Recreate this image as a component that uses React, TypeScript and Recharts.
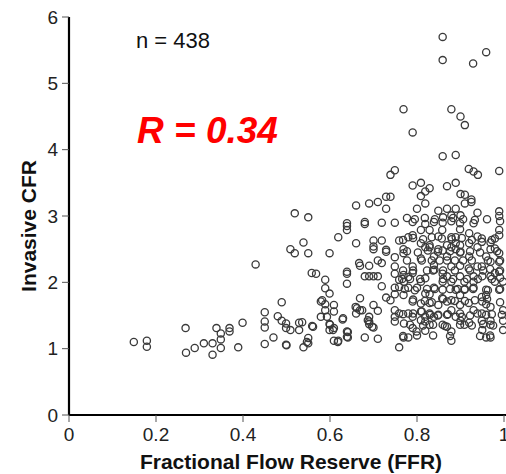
import { ScatterChart, Scatter, XAxis, YAxis } from 'recharts'

// [FFR, CFR] pairs
const highCfrPoints: number[][] = [
  [0.859, 5.7], [0.859, 5.35], [0.959, 5.47], [0.929, 5.3], [0.769, 4.61], [0.879, 4.61],
  [0.9, 4.5], [0.91, 4.37], [0.79, 4.26], [0.859, 3.9], [0.889, 3.92], [0.749, 3.69],
  [0.739, 3.62], [0.919, 3.71], [0.93, 3.67], [0.94, 3.62], [0.989, 3.68],
]

const lowFfrPoints: number[][] = [
  [0.149, 1.1], [0.179, 1.12], [0.179, 1.03], [0.268, 1.31], [0.269, 0.94], [0.289, 1.01],
  [0.31, 1.08], [0.33, 1.08], [0.33, 0.91], [0.339, 1.31], [0.349, 1.23], [0.349, 1.14],
  [0.349, 1.01], [0.369, 1.31], [0.369, 1.26], [0.389, 1.02], [0.399, 1.39], [0.429, 2.27],
  [0.45, 1.55], [0.45, 1.41], [0.45, 1.32], [0.45, 1.07], [0.47, 1.17], [0.48, 1.49],
  [0.489, 1.7], [0.489, 1.42], [0.499, 1.38], [0.499, 1.31], [0.499, 1.06], [0.5, 1.05],
]

const midFfrPoints: number[][] = [
  [0.509, 2.5], [0.519, 2.44], [0.519, 3.04], [0.509, 1.28], [0.529, 1.39], [0.529, 1.28],
  [0.539, 2.6], [0.539, 1.02], [0.55, 2.98], [0.55, 2.44], [0.55, 1.16], [0.55, 1.08],
  [0.559, 1.34], [0.558, 2.14], [0.568, 2.13], [0.579, 1.71], [0.579, 1.48], [0.589, 2.04],
  [0.589, 1.91], [0.589, 1.67], [0.589, 1.58], [0.599, 2.44], [0.599, 1.83], [0.599, 1.37],
  [0.599, 1.28], [0.609, 1.66], [0.609, 1.56], [0.609, 1.31], [0.609, 1.12], [0.619, 2.68],
  [0.619, 1.12], [0.629, 1.44], [0.639, 2.89], [0.639, 2.85], [0.639, 2.79], [0.639, 2.16],
  [0.639, 2.13], [0.639, 1.98], [0.639, 1.26], [0.639, 1.18], [0.66, 3.16], [0.66, 2.59],
  [0.659, 1.63], [0.66, 1.53], [0.669, 2.25], [0.667, 2.29], [0.669, 1.76], [0.669, 1.58],
  [0.68, 2.91], [0.68, 2.88], [0.68, 2.09], [0.68, 1.17], [0.69, 3.19], [0.69, 2.25],
  [0.69, 2.09], [0.69, 1.48], [0.69, 1.41], [0.69, 1.37], [0.7, 2.63], [0.7, 2.54],
  [0.7, 2.5], [0.7, 2.09], [0.7, 1.66], [0.7, 1.32], [0.71, 3.21], [0.71, 2.33],
  [0.71, 2.09], [0.71, 1.57], [0.71, 1.15], [0.719, 2.9], [0.719, 2.63], [0.719, 2.29],
  [0.719, 1.94], [0.729, 3.29], [0.729, 3.11], [0.729, 2.49], [0.729, 2.46], [0.729, 1.77],
  [0.739, 3.29], [0.739, 1.73], [0.749, 2.9], [0.749, 2.38], [0.749, 2.24], [0.749, 2.13],
  [0.749, 1.92], [0.749, 1.82], [0.749, 1.58], [0.749, 1.48], [0.749, 1.41],
  [0.662, 1.61], [0.674, 1.58], [0.687, 1.43], [0.697, 1.33], [0.63, 1.46], [0.6, 1.36],
  [0.607, 1.28], [0.641, 1.25], [0.641, 1.17], [0.618, 1.1], [0.547, 1.1], [0.561, 1.33],
  [0.536, 1.4], [0.582, 1.73], [0.593, 1.48],
]

const clusterPoints: number[][] = [
  [0.759, 2.63], [0.759, 2.04], [0.759, 1.93], [0.759, 1.53], [0.759, 1.02], [0.769, 2.5],
  [0.769, 2.44], [0.769, 2.11], [0.769, 1.81], [0.769, 1.17], [0.77, 2.01], [0.77, 1.38],
  [0.78, 2.68], [0.78, 2.08], [0.78, 1.92], [0.78, 1.53], [0.78, 1.17], [0.79, 3.46],
  [0.79, 2.91], [0.79, 2.71], [0.79, 2.24], [0.79, 2.14], [0.79, 1.71], [0.79, 1.48],
  [0.79, 1.31], [0.799, 1.26], [0.8, 3.11], [0.8, 1.92], [0.809, 3.5], [0.809, 3.3],
  [0.809, 2.79], [0.809, 2.59], [0.809, 2.36], [0.809, 2.01], [0.809, 1.68], [0.809, 1.56],
  [0.809, 1.43], [0.819, 3.37], [0.819, 3.19], [0.819, 2.88], [0.819, 2.53], [0.819, 2.06],
  [0.819, 1.83], [0.819, 1.48], [0.819, 1.41], [0.819, 1.27], [0.829, 3.42], [0.829, 2.79],
  [0.829, 2.56], [0.829, 2.53], [0.829, 1.82], [0.829, 1.69], [0.829, 1.53], [0.829, 1.36],
  [0.839, 2.91], [0.839, 2.39], [0.839, 2.26], [0.839, 1.92], [0.839, 1.48], [0.84, 2.19],
  [0.849, 3.08], [0.849, 2.69], [0.849, 2.5], [0.849, 1.66], [0.849, 1.51], [0.859, 2.9],
  [0.858, 2.79], [0.859, 2.48], [0.859, 2.13], [0.859, 2.01], [0.859, 1.89], [0.858, 1.76],
  [0.859, 1.36], [0.869, 3.45], [0.869, 3.11], [0.869, 2.56], [0.869, 2.39], [0.869, 2.09],
  [0.869, 1.71], [0.869, 1.51], [0.869, 1.33], [0.879, 3.01], [0.879, 2.92], [0.879, 2.68],
  [0.879, 2.53], [0.879, 2.24], [0.879, 2.01], [0.879, 1.73], [0.879, 1.58], [0.879, 1.26],
  [0.879, 1.12], [0.889, 3.5], [0.889, 3.11], [0.889, 2.68], [0.889, 2.59], [0.889, 2.5],
  [0.889, 1.89], [0.889, 1.48], [0.899, 2.89], [0.899, 2.8], [0.899, 2.56], [0.899, 2.25],
  [0.899, 2.09], [0.899, 1.81], [0.899, 1.66], [0.899, 1.53], [0.9, 3.33], [0.9, 3.01],
  [0.9, 2.46], [0.9, 1.42], [0.909, 2.01], [0.909, 1.89], [0.909, 1.36], [0.91, 3.32],
  [0.91, 3.19], [0.919, 2.21], [0.919, 1.69], [0.92, 2.74], [0.92, 2.59], [0.92, 2.39],
  [0.92, 1.39], [0.925, 3.25], [0.925, 3.21], [0.93, 2.89], [0.93, 2.09], [0.93, 2.01],
  [0.93, 1.92], [0.93, 1.58], [0.939, 3.05], [0.939, 2.69], [0.939, 2.53], [0.939, 2.24],
  [0.939, 1.53], [0.949, 2.61], [0.949, 2.24], [0.949, 1.78], [0.949, 1.42], [0.95, 2.09],
  [0.95, 1.71], [0.95, 1.28], [0.959, 2.39], [0.959, 1.89], [0.959, 1.81], [0.959, 1.67],
  [0.959, 1.51], [0.959, 1.17], [0.969, 2.6], [0.969, 2.5], [0.969, 2.31], [0.969, 2.09],
  [0.969, 1.63], [0.969, 1.42], [0.969, 1.36], [0.969, 1.17], [0.979, 2.66], [0.979, 2.51],
  [0.979, 2.14], [0.979, 2.01], [0.989, 3.07], [0.989, 3.0], [0.989, 2.79], [0.989, 2.71],
  [0.989, 2.44], [0.989, 2.31], [0.989, 2.16], [0.989, 1.89], [0.998, 2.01], [0.998, 1.58],
  [0.998, 1.42], [0.998, 1.28],
]

// extra points from the crowded core of the cloud
const clusterFillPoints: number[][] = [
  [0.777, 2.33], [0.811, 2.33], [0.834, 2.33], [0.852, 2.33], [0.869, 2.33], [0.887, 2.33],
  [0.906, 2.33], [0.926, 2.33], [0.963, 2.33], [0.991, 2.33],
  [0.768, 2.18], [0.791, 2.18], [0.823, 2.18], [0.837, 2.18], [0.86, 2.18], [0.887, 2.18],
  [0.922, 2.18], [0.952, 2.18], [0.968, 2.2], [0.991, 2.18],
  [0.766, 2.05], [0.784, 2.05], [0.807, 2.05], [0.86, 2.05], [0.883, 2.05], [0.915, 2.05],
  [0.94, 2.05], [0.972, 2.05], [0.991, 2.07],
  [0.772, 1.9], [0.795, 1.88], [0.823, 1.9], [0.841, 1.9], [0.876, 1.9], [0.894, 1.9],
  [0.91, 1.9], [0.929, 1.9], [0.963, 1.88], [0.991, 1.9],
  [0.791, 1.74], [0.818, 1.72], [0.834, 1.7], [0.86, 1.75], [0.887, 1.72], [0.91, 1.72],
  [0.933, 1.73], [0.961, 1.75], [0.991, 1.7],
  [0.768, 1.52], [0.791, 1.53], [0.811, 1.56], [0.83, 1.51], [0.848, 1.5], [0.871, 1.52],
  [0.903, 1.48], [0.922, 1.5], [0.949, 1.53], [0.972, 1.52], [0.995, 1.51],
  [0.784, 1.36], [0.814, 1.35], [0.837, 1.36], [0.864, 1.34], [0.899, 1.36], [0.926, 1.35],
  [0.952, 1.37], [0.975, 1.35],
  [0.768, 1.19], [0.8, 1.2], [0.837, 1.2], [0.876, 1.19], [0.945, 1.19], [0.968, 1.2],
  [0.777, 2.97], [0.795, 2.95], [0.818, 2.97], [0.841, 2.95], [0.86, 2.98], [0.883, 2.97],
  [0.906, 2.95], [0.933, 2.94], [0.961, 2.95], [0.991, 2.92],
  [0.768, 2.64], [0.791, 2.67], [0.814, 2.65], [0.834, 2.68], [0.857, 2.66], [0.88, 2.65],
  [0.903, 2.67], [0.926, 2.64], [0.949, 2.66], [0.972, 2.64],
  [0.777, 2.47], [0.802, 2.45], [0.825, 2.48], [0.848, 2.46], [0.876, 2.47], [0.899, 2.45],
  [0.922, 2.47], [0.945, 2.45], [0.984, 2.47],
]

const yTicks = [0, 1, 2, 3, 4, 5, 6]
const xTicks = [0, 0.2, 0.4, 0.6, 0.8, 1, 1.2]

const points = [
  ...lowFfrPoints,
  ...midFfrPoints,
  ...clusterPoints,
  ...clusterFillPoints,
  ...highCfrPoints,
].map(([ffr, cfr]) => ({ ffr, cfr }))

const FONT = '"Liberation Sans", Arial, Helvetica, sans-serif'

function OpenCircle(props: any) {
  const { cx, cy } = props
  if (cx == null || cy == null) return null
  return <circle cx={cx} cy={cy} r={3.6} fill="none" stroke="#3a3a3a" strokeWidth={1.3} />
}

export default function App() {
  // the original figure is cropped just past FFR = 1, so the chart is wider than the page
  return (
    <div
      style={{
        position: 'absolute',
        left: 0,
        top: 0,
        width: 506,
        height: 474,
        overflow: 'hidden',
        background: '#fff',
      }}
    >
      <ScatterChart width={610} height={474} margin={{ top: 17, right: 19, bottom: 29, left: 28 }}>
        <XAxis
          type="number"
          dataKey="ffr"
          domain={[0, 1.2]}
          ticks={xTicks}
          tickFormatter={(v: number) => String(v)}
          height={30}
          tickSize={7}
          tickMargin={6}
          axisLine={{ stroke: '#000', strokeWidth: 2.2 }}
          tickLine={{ stroke: '#555', strokeWidth: 1 }}
          tick={{ fontSize: 19, fill: '#222', fontFamily: FONT }}
          interval={0}
        />
        <YAxis
          type="number"
          dataKey="cfr"
          domain={[0, 6]}
          ticks={yTicks}
          width={41}
          tickSize={7}
          tickMargin={4}
          axisLine={{ stroke: '#000', strokeWidth: 2.2 }}
          tickLine={{ stroke: '#555', strokeWidth: 1 }}
          tick={{ fontSize: 19, fill: '#222', fontFamily: FONT }}
          interval={0}
        />
        <Scatter data={points} shape={OpenCircle} isAnimationActive={false} />
        <text x={136} y={48} fontSize={22} fill="#111" fontFamily={FONT}>
          n = 438
        </text>
        <text
          x={137}
          y={143}
          fontSize={37}
          fill="#ff0000"
          fontWeight="bold"
          fontStyle="italic"
          fontFamily={FONT}
        >
          R = 0.34
        </text>
        <text
          x={36}
          y={226}
          fontSize={21}
          fontWeight="bold"
          fill="#111"
          textAnchor="middle"
          fontFamily={FONT}
          transform="rotate(-90, 36, 226)"
        >
          Invasive CFR
        </text>
        <text x={291} y={469} fontSize={21} fontWeight="bold" fill="#111" textAnchor="middle" fontFamily={FONT}>
          Fractional Flow Reserve (FFR)
        </text>
      </ScatterChart>
    </div>
  )
}
